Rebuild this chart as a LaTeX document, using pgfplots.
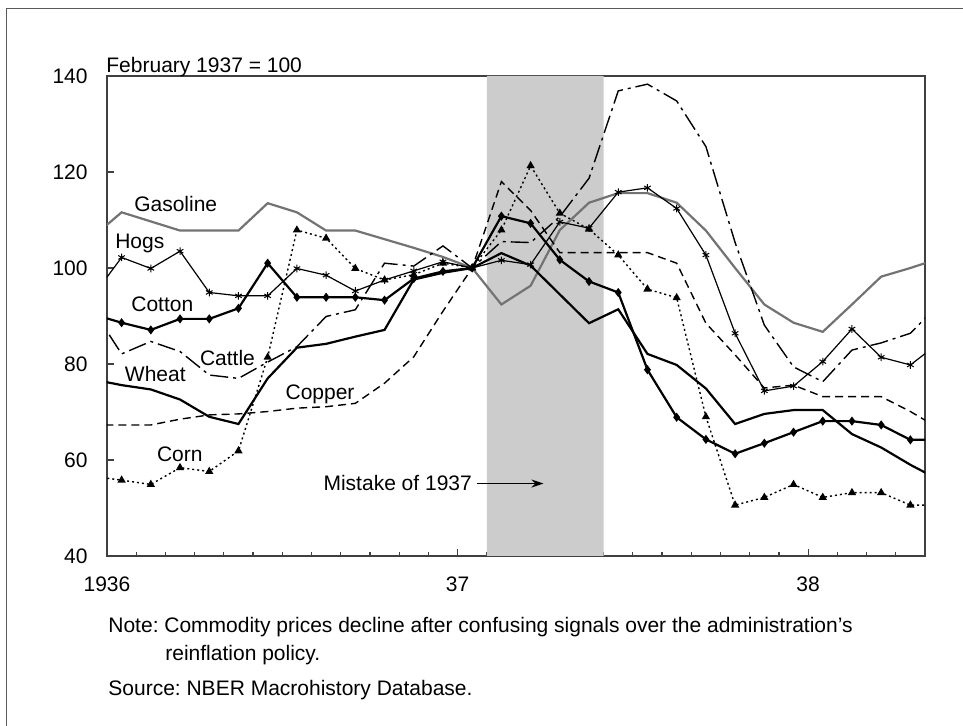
\documentclass[border=0pt]{standalone}
\usepackage{fontspec}
\setmainfont{Liberation Sans}
\usepackage{pgfplots}
\pgfplotsset{compat=1.18}
\usetikzlibrary{arrows.meta}
\begin{document}
\frenchspacing
\fontsize{10.5bp}{12.6bp}\selectfont
\begin{tikzpicture}
\useasboundingbox (-53.5bp,-85bp) rectangle (428bp,278bp);
\draw[black!65, line width=0.7bp] (-50.15bp,-90bp) -- (-50.15bp,273.85bp) -- (432bp,273.85bp);
\begin{axis}[
  at={(0,0)}, anchor=south west,
  scale only axis, width=409bp, height=240bp,
  xmin=0, xmax=28, ymin=40, ymax=140,
  axis line style={black!75, line width=0.6bp},
  xtick={0,12,24}, xticklabels={1936,37,38},
  minor xtick={1,2,3,4,5,6,7,8,9,10,11,13,14,15,16,17,18,19,20,21,22,23,25,26,27},
  ytick={40,60,80,100,120,140}, yticklabels={40,60,80,100,120,140},
  tick align=inside, xtick pos=lower, ytick pos=left,
  major tick length=3.7bp, minor tick length=1.75bp,
  every tick/.style={black!75, line width=0.6bp},
  minor tick style={black!75, line width=0.6bp},
  xticklabel style={inner sep=0pt, yshift=-10.3bp},
  yticklabel style={inner sep=0pt, xshift=-9.5bp},
  clip mode=individual,
]
\addplot[fill=black!20, draw=none, forget plot] coordinates {(13,40) (13,140) (17,140) (17,40) (13,40)};

% Gasoline
\addplot[black!55, line width=1.1bp, mark=none] coordinates {
(-0.5,106.4)(0.5,111.6)(1.5,109.7)(2.5,107.8)(3.5,107.8)(4.5,107.8)(5.5,113.5)(6.5,111.6)(7.5,107.8)(8.5,107.8)(9.5,106.0)(10.5,104.2)(11.5,102.3)(12.5,100)(13.5,92.4)(14.5,96.3)(15.5,107.9)(16.5,113.6)(17.5,115.6)(18.5,115.6)(19.5,113.6)(20.5,107.8)(21.5,100.0)(22.5,92.4)(23.5,88.6)(24.5,86.7)(25.5,92.4)(26.5,98.2)(27.5,100.0)(28.5,102.0)};

% Copper
\addplot[black, line width=0.7bp, dash pattern=on 4bp off 2.5bp, mark=none] coordinates {
(-0.5,67.3)(0.5,67.3)(1.5,67.3)(2.5,68.5)(3.5,69.4)(4.5,69.6)(5.5,70.1)(6.5,70.8)(7.5,71.1)(8.5,71.8)(9.5,76.0)(10.5,81.5)(11.5,91.0)(12.5,100)(13.5,118.0)(14.5,112.0)(15.5,103.2)(16.5,103.2)(17.5,103.2)(18.5,103.2)(19.5,101.0)(20.5,88.5)(21.5,81.9)(22.5,75.0)(23.5,75.6)(24.5,73.2)(25.5,73.2)(26.5,73.2)(27.5,70.1)(28.5,66.5)};

% Cattle
\addplot[black, line width=0.7bp, dash pattern=on 9bp off 2.5bp on 1.5bp off 2.5bp, mark=none] coordinates {
(-0.5,91.5)(0.5,82.1)(1.5,84.7)(2.5,82.6)(3.5,77.7)(4.5,77.0)(5.5,80.4)(6.5,83.6)(7.5,89.9)(8.5,91.3)(9.5,101.0)(10.5,100.4)(11.5,104.6)(12.5,100)(13.5,105.5)(14.5,105.3)(15.5,110.7)(16.5,118.7)(17.5,136.9)(18.5,138.3)(19.5,134.8)(20.5,125.3)(21.5,105.3)(22.5,88.1)(23.5,79.4)(24.5,76.3)(25.5,82.9)(26.5,84.4)(27.5,86.4)(28.5,92.6)};

% Corn
\addplot[black, line width=0.7bp, dash pattern=on 1bp off 1.5bp, mark=triangle*, mark size=1.7bp, mark options={solid}] coordinates {
(-0.5,56.6)(0.5,55.8)(1.5,54.9)(2.5,58.4)(3.5,57.6)(4.5,61.9)(5.5,81.4)(6.5,107.9)(7.5,106.2)(8.5,99.9)(9.5,97.5)(10.5,98.6)(11.5,101.0)(12.5,100)(13.5,107.9)(14.5,121.3)(15.5,111.4)(16.5,108.1)(17.5,102.7)(18.5,95.6)(19.5,93.8)(20.5,69.0)(21.5,50.6)(22.5,52.2)(23.5,54.9)(24.5,52.2)(25.5,53.2)(26.5,53.2)(27.5,50.6)(28.5,50.6)};

% Hogs
\addplot[black, line width=0.6bp, mark=asterisk, mark size=1.9bp, mark options={solid, line width=0.5bp}] coordinates {
(-0.5,94)(0.5,102.2)(1.5,99.9)(2.5,103.5)(3.5,94.9)(4.5,94.2)(5.5,94.2)(6.5,99.9)(7.5,98.5)(8.5,95.2)(9.5,97.5)(10.5,99.4)(11.5,101.3)(12.5,100)(13.5,101.6)(14.5,100.7)(15.5,109.6)(16.5,108.3)(17.5,115.8)(18.5,116.7)(19.5,112.4)(20.5,102.7)(21.5,86.4)(22.5,74.4)(23.5,75.4)(24.5,80.5)(25.5,87.3)(26.5,81.4)(27.5,79.8)(28.5,84.5)};

% Wheat
\addplot[black, line width=1.1bp, mark=none] coordinates {
(-0.5,76.8)(0.5,75.6)(1.5,74.7)(2.5,72.6)(3.5,69.0)(4.5,67.5)(5.5,77.0)(6.5,83.4)(7.5,84.2)(8.5,85.7)(9.5,87.1)(10.5,97.6)(11.5,99.0)(12.5,100)(13.5,103.1)(14.5,100.5)(15.5,94.5)(16.5,88.5)(17.5,91.4)(18.5,82.1)(19.5,79.8)(20.5,74.9)(21.5,67.5)(22.5,69.6)(23.5,70.4)(24.5,70.4)(25.5,65.4)(26.5,62.6)(27.5,59.0)(28.5,55.8)};

% Cotton
\addplot[black, line width=1.1bp, mark=diamond*, mark size=1.4bp, mark options={solid}] coordinates {
(-0.5,90.4)(0.5,88.6)(1.5,87.1)(2.5,89.4)(3.5,89.4)(4.5,91.6)(5.5,101.0)(6.5,93.9)(7.5,93.9)(8.5,93.9)(9.5,93.3)(10.5,97.8)(11.5,99.3)(12.5,100)(13.5,110.8)(14.5,109.3)(15.5,101.7)(16.5,97.2)(17.5,94.9)(18.5,78.8)(19.5,68.9)(20.5,64.3)(21.5,61.3)(22.5,63.5)(23.5,65.8)(24.5,68.1)(25.5,68.1)(26.5,67.3)(27.5,64.2)(28.5,64.2)};

\node[anchor=base west, inner sep=0pt] at (axis cs:0.92,111.7) {Gasoline};
\node[anchor=base west, inner sep=0pt] at (axis cs:0.27,104.1) {Hogs};
\node[anchor=base west, inner sep=0pt] at (axis cs:0.82,90.9) {Cotton};
\node[anchor=base west, inner sep=0pt] at (axis cs:3.17,79.6) {Cattle};
\node[anchor=base west, inner sep=0pt] at (axis cs:0.6,76.25) {Wheat};
\node[anchor=base west, inner sep=0pt] at (axis cs:6.1,72.6) {Copper};
\node[anchor=base west, inner sep=0pt] at (axis cs:1.7,59.65) {Corn};
\node[anchor=base west, inner sep=0pt] at (axis cs:7.4,53.75) {Mistake of 1937};
\draw[-{Stealth[length=6bp,width=4bp]}, line width=0.6bp] (axis cs:12.66,55.1) -- (axis cs:14.94,55.1);
\end{axis}
\node[anchor=base west, inner sep=0pt] at (-0.5bp,241.65bp) {February 1937 = 100};
\node[anchor=base west, inner sep=0pt] at (0.5bp,-38.35bp) {Note: Commodity prices decline after confusing signals over the administration’s};
\node[anchor=base west, inner sep=0pt] at (29bp,-52bp) {reinflation policy.};
\node[anchor=base west, inner sep=0pt] at (0.5bp,-69.8bp) {Source: NBER Macrohistory Database.};
\end{tikzpicture}
\end{document}
